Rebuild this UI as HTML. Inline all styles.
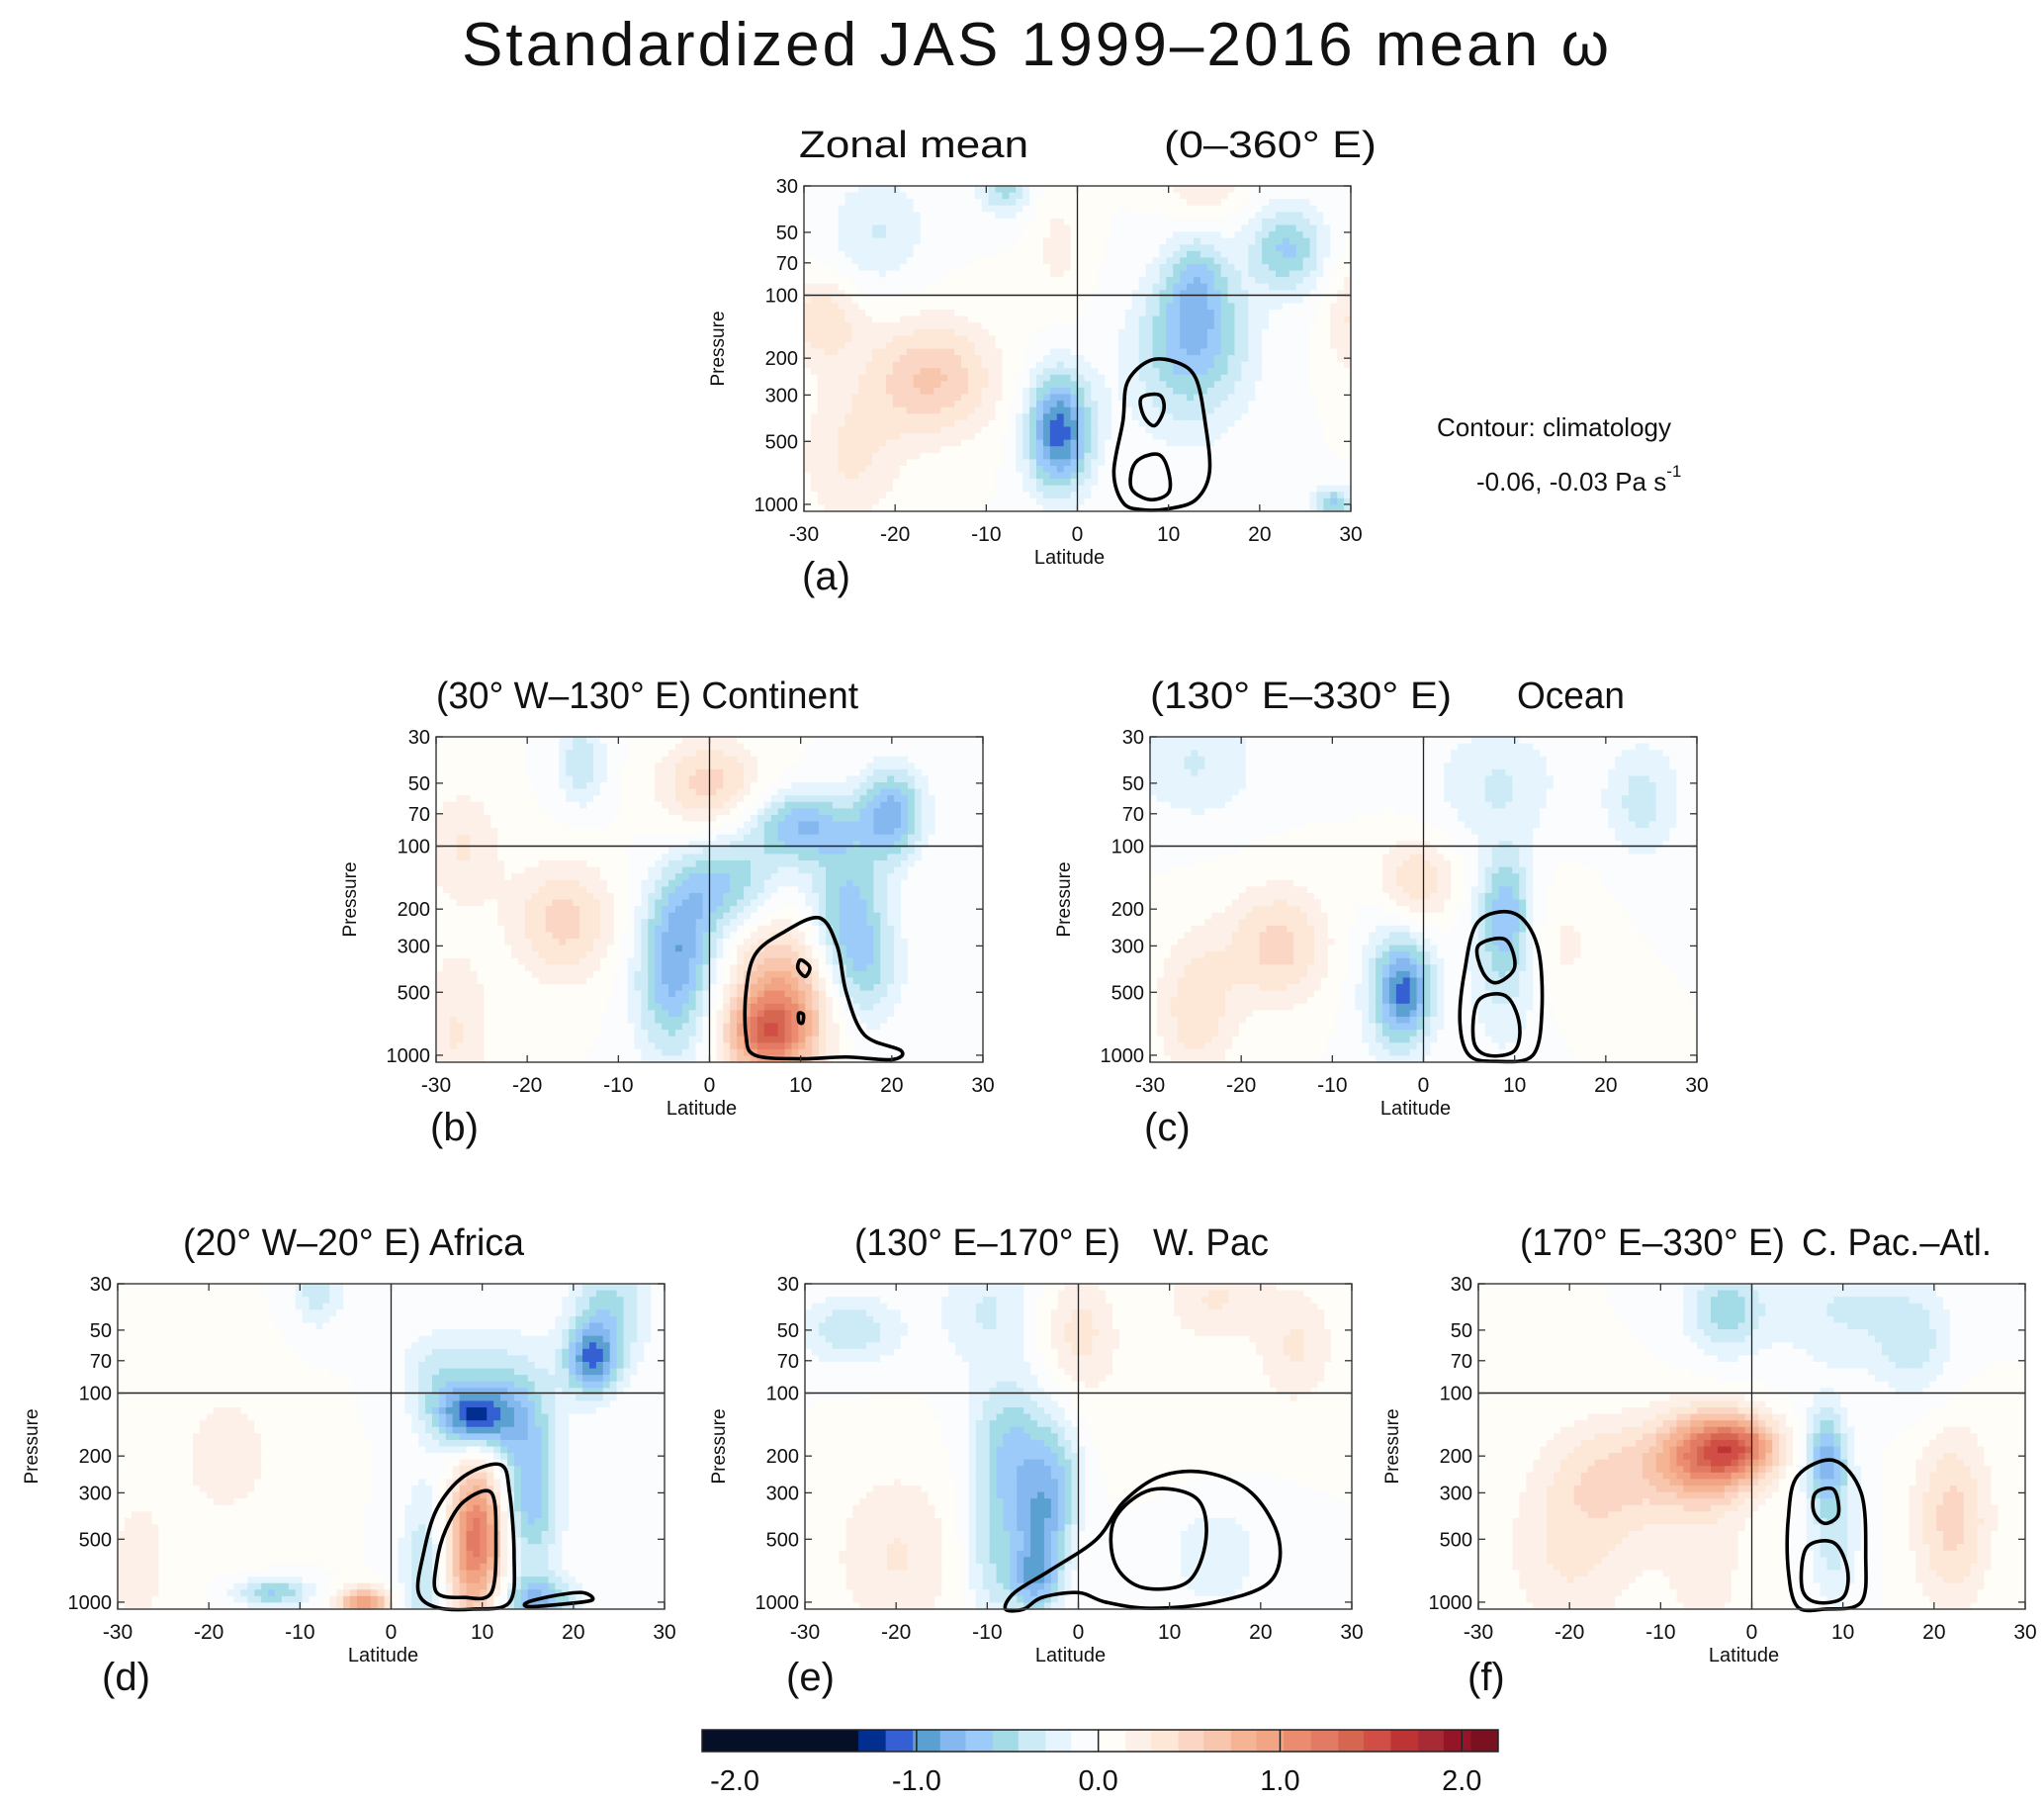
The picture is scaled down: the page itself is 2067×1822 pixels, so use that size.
<!DOCTYPE html>
<html><head><meta charset="utf-8"><style>
body{margin:0;background:#fff}
svg{display:block}
text{font-family:"Liberation Sans",sans-serif;fill:#111}
</style></head><body>
<svg id="fig" width="2067" height="1822" viewBox="0 0 2067 1822" xmlns="http://www.w3.org/2000/svg">
<rect width="2067" height="1822" fill="#fff"/>
<text x="1047" y="66" font-size="62" text-anchor="middle" textLength="1160">Standardized JAS 1999–2016 mean  ω</text>
<text x="1453" y="441" font-size="26">Contour:  climatology</text>
<text x="1493" y="496" font-size="26">-0.06, -0.03 Pa s<tspan dy="-14" font-size="17">-1</tspan></text>
<g id="panels"></g>
<g id="cbar"></g>
</svg>
<script>
const levelEdges=[-2.18,-1.32,-1.17,-1.02,-0.87,-0.73,-0.58,-0.44,-0.29,-0.15,0,0.15,0.29,0.44,0.58,0.73,0.87,1.02,1.17,1.32,1.46,1.61,1.76,1.90,2.05,2.2];
const levelColors=["#050f28","#002f8f","#3560d4","#5aa0d0","#85b8ee","#9ccbfa","#a3dce6","#cdebf7","#e6f5fd","#fafcfe","#fffdf8","#fdf0e8","#fde8d8","#fbd6c4","#f8c6ad","#f5b595","#f1a585","#eb8c70","#e27a64","#d6664f","#d04e45","#be3434","#a82a35","#951528","#7a1020"];
const cbarTicks=[-2,-1,0,1,2];
const cbarTickLabels=["-2.0","-1.0","0.0","1.0","2.0"];
const latTicks=[-30,-20,-10,0,10,20,30];
const presTicks=[30,50,70,100,200,300,500,1000];

// anomaly blobs per panel: [lat, pressure, amplitude, latWidth, logWidth]
const blobsA=[[-2,450,-1.1,2.5,0.2],[-16,250,0.6,5,0.2],[-28,130,0.4,3,0.15],[-25,600,0.3,4,0.25],[13,140,-0.5,4,0.2],[13,80,-0.4,2.5,0.15],[23,60,-0.6,3,0.15],[12,250,-0.35,5,0.25],[-22,50,-0.3,4,0.2],[-8,30,-0.5,2,0.1],[14,30,0.3,3,0.1],[-2,60,0.2,2,0.2],[28,1000,-0.6,1.5,0.06],[30,130,0.3,2,0.2]];
const blobsB=[[-4,500,-0.6,3,0.25],[-3,250,-0.5,3,0.2],[2,150,-0.55,4,0.15],[10,80,-0.7,4,0.12],[15,200,-0.6,3,0.25],[20,70,-0.8,2.5,0.15],[17,400,-0.4,3,0.2],[8,550,0.9,4,0.25],[6,800,0.8,3,0.12],[-16,230,0.5,4,0.2],[0,50,0.5,4,0.15],[-28,800,0.3,3,0.3],[-27,100,0.3,3,0.2],[-14,40,-0.4,2,0.15]];
const blobsC=[[-2,500,-0.7,2,0.15],[-3,450,-0.4,3,0.3],[9,200,-0.55,2,0.2],[9,400,-0.3,3,0.3],[-1,150,0.5,3,0.15],[-16,300,0.5,4,0.2],[-25,600,0.4,3,0.25],[15,300,0.2,3,0.2],[-25,40,-0.3,5,0.2],[8,50,-0.3,5,0.2],[24,60,-0.35,3,0.2]];
const blobsD=[[9,130,-0.95,3,0.1],[12,100,-0.4,4,0.2],[22,70,-0.9,2,0.12],[24,40,-0.5,3,0.2],[15,300,-0.7,2.5,0.3],[4,700,-0.5,2,0.3],[16,1000,-0.7,3,0.08],[-13,900,-0.6,3,0.05],[-8,30,-0.4,2,0.15],[5,80,-0.3,3,0.15],[9,600,1.0,2.5,0.25],[10,350,0.5,2,0.2],[-3,1000,1.0,2,0.05],[-18,200,0.2,5,0.3],[-28,700,0.2,3,0.3]];
const blobsE=[[-6,300,-0.5,3,0.3],[-4,500,-0.45,2,0.2],[-5,800,-0.5,2,0.1],[-2,250,-0.35,2,0.2],[-10,600,-0.3,2,0.3],[-8,150,-0.3,3,0.2],[-25,50,-0.4,4,0.12],[-10,40,-0.3,4,0.2],[0,50,0.35,3,0.2],[15,35,0.3,4,0.15],[24,60,0.3,3,0.2],[-20,600,0.3,5,0.3],[10,130,0.15,6,0.2],[15,600,-0.25,4,0.2]];
const blobsF=[[-5,200,1.1,4,0.15],[-1,180,0.8,3,0.1],[-15,250,0.4,5,0.2],[22,400,0.5,3,0.3],[-20,600,0.3,5,0.3],[-5,700,0.2,4,0.3],[8,200,-0.6,1.5,0.15],[9,400,-0.4,2,0.3],[-3,40,-0.5,3,0.15],[10,40,-0.3,6,0.2],[18,60,-0.3,3,0.2]];

const contA=[[[8,205],[11,210],[13,250],[14,400],[14.5,700],[13,950],[10,1050],[7,1060],[5,980],[4,700],[5,400],[5.5,260]],[[7,310],[9,300],[9.5,350],[8.5,420],[7.3,380]],[[7,600],[9,580],[10,700],[10,880],[8,950],[6,850],[6,680]]];
const contB=[[[5,330],[8,260],[12,220],[14,300],[15,500],[17,800],[21,950],[20,1050],[15,1020],[10,1040],[5,1000],[4,800],[4,500]],[[10,350],[11,380],[10.5,420],[9.7,385]],[[9.8,630],[10.3,640],[10.2,700],[9.8,690]]];
const contC=[[[6,230],[10,210],[12.5,300],[13,600],[12,1000],[8,1070],[5,1000],[4,700],[4.5,400]],[[6,300],[9,280],[10,380],[8,450],[6.5,400]],[[6,550],[9,520],[10.5,700],[10,950],[7,1000],[5.5,850]]];
const contD=[[[5,360],[8,250],[12,220],[13,300],[13.5,600],[13,1000],[9,1080],[5,1060],[3,900],[3.5,600]],[[6,450],[8,330],[11,300],[11.5,500],[11,900],[8,950],[5,900],[5,650]],[[15,1000],[18,930],[21,900],[22,980],[18,1030],[15,1050]]];
const contE=[[[-8,1080],[-7,900],[-3,700],[2,500],[5,330],[9,250],[14,240],[19,300],[22,500],[21,800],[15,1000],[8,1070],[3,1000],[0,900],[-4,950],[-6,1080]],[[4,400],[8,290],[13,320],[14,500],[12,800],[7,850],[4,650]]];
const contF=[[[5,250],[9,210],[12,300],[12.5,600],[12,1000],[8,1080],[5,1050],[4,700],[4,400]],[[7,300],[9,290],[9.5,380],[8,420],[6.8,370]],[[6,550],[9,520],[10.5,700],[10,950],[7,1000],[5.5,850]]];

const NS="http://www.w3.org/2000/svg";
function mk(tag,attrs,parent){const e=document.createElementNS(NS,tag);for(const k in attrs)e.setAttribute(k,attrs[k]);if(parent)parent.appendChild(e);return e;}
function colorFor(v){for(let i=0;i<levelColors.length;i++){if(v<levelEdges[i+1])return levelColors[i];}return levelColors[levelColors.length-1];}

const panels=[
 {id:"a",x:813,y:188,blobs:blobsA,cont:contA,titles:[["Zonal mean",808,232],["(0–360° E)",1177,215]],letter:[811,596]},
 {id:"b",x:441,y:745,blobs:blobsB,cont:contB,titles:[["(30° W–130° E) Continent",441,427]],letter:[435,1153]},
 {id:"c",x:1163,y:745,blobs:blobsC,cont:contC,titles:[["(130° E–330° E)",1163,305],["Ocean",1534,109]],letter:[1157,1153]},
 {id:"d",x:119,y:1298,blobs:blobsD,cont:contD,titles:[["(20° W–20° E) Africa",185,345]],letter:[103,1709]},
 {id:"e",x:814,y:1298,blobs:blobsE,cont:contE,titles:[["(130° E–170° E)",864,269],["W. Pac",1166,117]],letter:[795,1709]},
 {id:"f",x:1495,y:1298,blobs:blobsF,cont:contF,titles:[["(170° E–330° E)",1537,268],["C. Pac.–Atl.",1822,192]],letter:[1484,1709]}
];
const W=553,H=329,LT=Math.log10(30),LB=Math.log10(1080);
const root=document.getElementById("panels");

function smoothPath(pts){
 const n=pts.length;let d="M"+pts[0][0]+","+pts[0][1];
 for(let i=0;i<n;i++){const p0=pts[(i-1+n)%n],p1=pts[i],p2=pts[(i+1)%n],p3=pts[(i+2)%n];
  const c1=[p1[0]+(p2[0]-p0[0])/6,p1[1]+(p2[1]-p0[1])/6],c2=[p2[0]-(p3[0]-p1[0])/6,p2[1]-(p3[1]-p1[1])/6];
  d+=" C"+c1[0]+","+c1[1]+" "+c2[0]+","+c2[1]+" "+p2[0]+","+p2[1];}
 return d+"Z";}

panels.forEach(P=>{
 const g=mk("g",{},root);
 
 
 const xs=lat=>P.x+(lat+30)/60*W;
 const ys=p=>P.y+(Math.log10(p)-LT)/(LB-LT)*H;
 const field=mk("g",{},g);
 
 
 const NX=80,NY=50;
 for(let i=0;i<NX;i++){for(let j=0;j<NY;j++){
  const lat=-30+(i+0.5)*60/NX, lp=LT+(j+0.5)*(LB-LT)/NY;
  let v=0;P.blobs.forEach(b=>{const dl=(lat-b[0])/b[3],dp=(lp-Math.log10(b[1]))/b[4];v+=b[2]*Math.exp(-0.5*(dl*dl+dp*dp));});
  const x0=xs(-30+i*60/NX),x1=xs(-30+(i+1)*60/NX);
  const y0=ys(Math.pow(10,LT+j*(LB-LT)/NY)),y1=ys(Math.pow(10,LT+(j+1)*(LB-LT)/NY));
  const r=mk("rect",{x:x0.toFixed(2),y:y0.toFixed(2),width:(x1-x0+0.6).toFixed(2),height:(y1-y0+0.6).toFixed(2),fill:colorFor(v)},field);
  
  
 }}
 const vl=mk("line",{x1:xs(0),x2:xs(0),y1:P.y,y2:P.y+H,stroke:"#222","stroke-width":1.3},g);
 
 
 const hl=mk("line",{x1:P.x,x2:P.x+W,y1:ys(100),y2:ys(100),stroke:"#222","stroke-width":1.5},g);
 
 
 P.cont.forEach(loop=>{
  const pts=loop.map(q=>[xs(q[0]),ys(q[1])]);
  const c=mk("path",{d:smoothPath(pts),fill:"none",stroke:"#000","stroke-width":3.6,"stroke-linejoin":"round"},g);
  
  
 });
 const fr=mk("rect",{x:P.x,y:P.y,width:W,height:H,fill:"none",stroke:"#444","stroke-width":1.5},g);
 
 
 latTicks.forEach(t=>{
  mk("line",{x1:xs(t),x2:xs(t),y1:P.y+H,y2:P.y+H-7,stroke:"#333","stroke-width":1.3},g);
  mk("line",{x1:xs(t),x2:xs(t),y1:P.y,y2:P.y+7,stroke:"#333","stroke-width":1.3},g);
  const tx=mk("text",{x:xs(t),y:P.y+H+30,"font-size":21,"text-anchor":"middle"},g);tx.textContent=String(t);
  
  
 });
 presTicks.forEach(t=>{
  mk("line",{x1:P.x,x2:P.x+7,y1:ys(t),y2:ys(t),stroke:"#333","stroke-width":1.3},g);
  mk("line",{x1:P.x+W,x2:P.x+W-7,y1:ys(t),y2:ys(t),stroke:"#333","stroke-width":1.3},g);
  const ty=mk("text",{x:P.x-6,y:ys(t)+7,"font-size":20,"text-anchor":"end"},g);ty.textContent=String(t);
  
  
 });
 const xl=mk("text",{x:P.x+W/2-8,y:P.y+H+53,"font-size":20,"text-anchor":"middle"},g);xl.textContent="Latitude";
 
 
 const yl=mk("text",{x:0,y:0,"font-size":19,"text-anchor":"middle",transform:"translate("+(P.x-81)+","+(P.y+H*0.5)+") rotate(-90)"},g);yl.textContent="Pressure";
 
 
 P.titles.forEach(tt=>{
  const t=mk("text",{x:tt[1],y:P.y-29,"font-size":38,textLength:tt[2],lengthAdjust:"spacingAndGlyphs"},g);t.textContent=tt[0];
  
  
 });
 const lt=mk("text",{x:P.letter[0],y:P.letter[1],"font-size":40},g);lt.textContent="("+P.id+")";
 
 
});

const cb=document.getElementById("cbar");
const CBW=805;
const cx=v=>710+(v-levelEdges[0])/(levelEdges[levelEdges.length-1]-levelEdges[0])*CBW;
const cy=1749,ch=22;
levelColors.forEach((c,i)=>{
 const r=mk("rect",{x:cx(levelEdges[i]),y:cy,width:cx(levelEdges[i+1])-cx(levelEdges[i])+0.5,height:ch,fill:c},cb);
 
 
});
mk("rect",{x:710,y:cy,width:CBW,height:ch,fill:"none",stroke:"#222","stroke-width":1.5},cb);
cbarTicks.forEach((t,i)=>{
 const X=cx(t);
 if(t>-2)mk("line",{x1:X,x2:X,y1:cy,y2:cy+ch,stroke:"#222","stroke-width":1.5},cb);
 const tx=mk("text",{x:X,y:1810,"font-size":29,"text-anchor":"middle"},cb);tx.textContent=cbarTickLabels[i];
 
 
});
</script>
</body></html>
